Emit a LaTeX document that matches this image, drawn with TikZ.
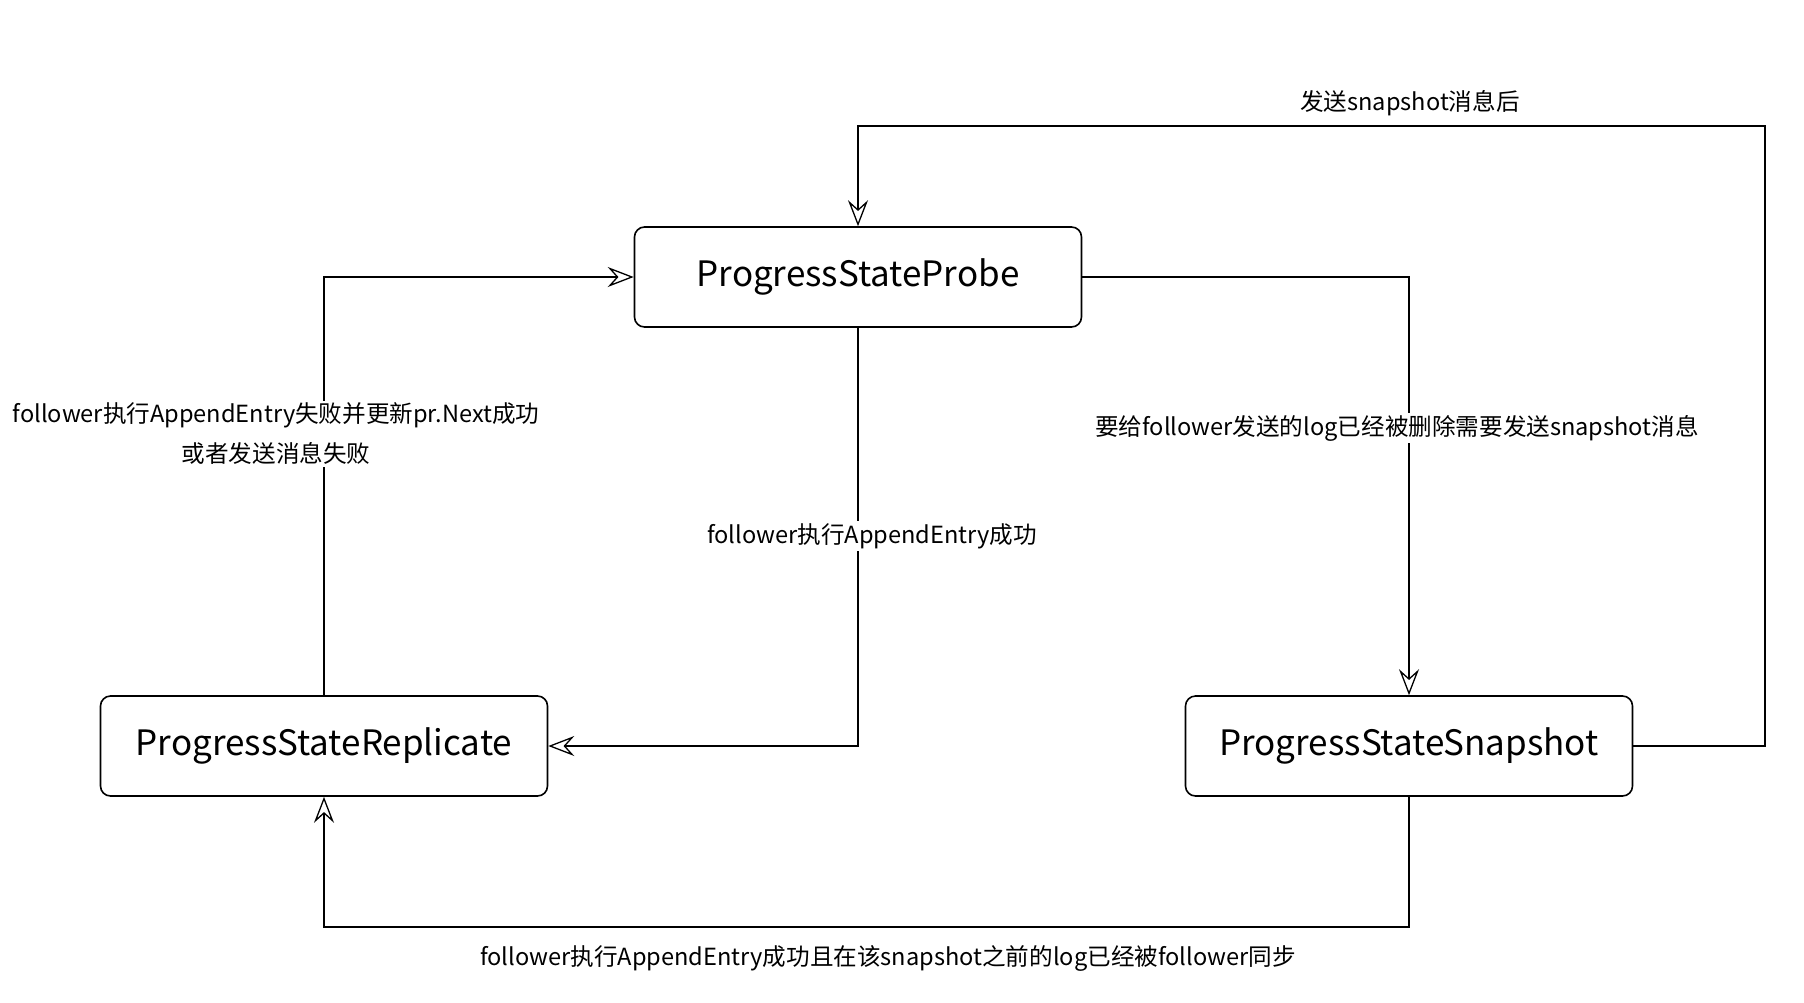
\documentclass[tikz,border=0pt]{standalone}
\usepackage{fontspec}
\setmainfont{Noto Sans CJK SC}
\usetikzlibrary{arrows.meta, positioning, calc}

\begin{document}
\begin{tikzpicture}[
    x=1pt, y=-1pt,
    state/.style={
        rectangle, rounded corners=10pt, draw=black, line width=1.6pt,
        minimum width=447pt, minimum height=100pt,
        font=\fontsize{35}{40}\selectfont, align=center
    },
    arrow/.style={-{Stealth[open, length=26pt, width=20pt, inset=9pt]}, line width=1.3pt, draw=black},
    label/.style={font=\fontsize{23.6}{40}\selectfont, align=center, inner sep=2pt}
]
\useasboundingbox (0,0) rectangle (1804,1002);

% States
\node[state] (probe) at (858,277) {ProgressStateProbe};
\node[state] (replicate) at (324,746) {ProgressStateReplicate};
\node[state] (snapshot) at (1409,746) {ProgressStateSnapshot};

% Corner points of the long loops
\coordinate (loopright) at (1765,126);
\coordinate (loopbottom) at (1409,927);

% Probe -> Replicate
\draw[arrow] (probe.south) |- (replicate.east);
\node[label, fill=white] (lblsuccess) at (872,536) {follower执行AppendEntry成功};

% Replicate -> Probe
\draw[arrow] (replicate.north) |- (probe.west);
\node[label, fill=white] (lblfail) at (276,434) {follower执行AppendEntry失败并更新pr.Next成功\\或者发送消息失败};

% Probe -> Snapshot
\draw[arrow] (probe.east) -| (snapshot.north);
\node[label, fill=white] (lblneed) at (1397,428) {要给follower发送的log已经被删除需要发送snapshot消息};

% Snapshot -> Probe
\draw[arrow] (snapshot.east) -| (loopright) -| (probe.north);
\node[label] (lblsent) at (1410,103) {发送snapshot消息后};

% Snapshot -> Replicate
\draw[arrow] (snapshot.south) -- (loopbottom) -| (replicate.south);
\node[label] (lblsync) at (888,958) {follower执行AppendEntry成功且在该snapshot之前的log已经被follower同步};

\end{tikzpicture}
\end{document}
